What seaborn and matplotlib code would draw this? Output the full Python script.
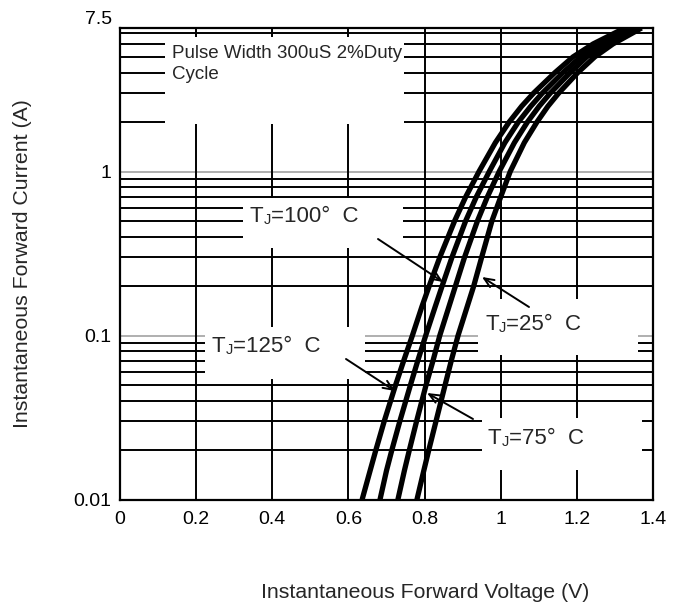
import numpy as np
import pandas as pd
import matplotlib
matplotlib.use("Agg")
import matplotlib.pyplot as plt
from matplotlib.patches import Rectangle
from matplotlib.transforms import ScaledTranslation
import seaborn as sns

# ---------------- data ----------------
current_a = [0.01, 0.015, 0.02, 0.03, 0.05, 0.07, 0.1, 0.15, 0.2, 0.3, 0.5,
             0.7, 1.0, 1.5, 2.0, 2.5, 3.0, 4.0, 5.0, 6.0, 7.5]
vf_125c = [0.636, 0.657, 0.672, 0.694, 0.724, 0.745, 0.768, 0.793, 0.812, 0.840,
           0.879, 0.908, 0.943, 0.986, 1.022, 1.055, 1.086, 1.142, 1.190, 1.243, 1.326]
vf_100c = [0.683, 0.700, 0.714, 0.735, 0.763, 0.782, 0.803, 0.828, 0.846, 0.872,
           0.908, 0.936, 0.970, 1.011, 1.046, 1.079, 1.109, 1.163, 1.210, 1.262, 1.344]
vf_75c = [0.730, 0.747, 0.760, 0.779, 0.804, 0.822, 0.840, 0.864, 0.881, 0.905,
          0.939, 0.965, 0.996, 1.036, 1.070, 1.101, 1.130, 1.182, 1.226, 1.278, 1.357]
vf_25c = [0.780, 0.798, 0.811, 0.830, 0.854, 0.870, 0.888, 0.912, 0.929, 0.950,
          0.977, 1.000, 1.025, 1.062, 1.095, 1.124, 1.152, 1.202, 1.247, 1.295, 1.370]
series_names = ["125", "100", "75", "25"]

x_ticks = [0, 0.2, 0.4, 0.6, 0.8, 1.0, 1.2, 1.4]
x_tick_labels = ["0", "0.2", "0.4", "0.6", "0.8", "1", "1.2", "1.4"]
y_ticks = [0.01, 0.1, 1, 7.5]
y_tick_labels = ["0.01", "0.1", "1", "7.5"]

x_label = "Instantaneous Forward Voltage (V)"
y_label = "Instantaneous Forward Current (A)"
note_text = "Pulse Width 300uS 2%Duty\nCycle"

df = pd.DataFrame({
    "V": vf_125c + vf_100c + vf_75c + vf_25c,
    "I": current_a * 4,
    "T": sum([[n] * len(current_a) for n in series_names], []),
})

# ---------------- style ----------------
sns.set_style("white")
plt.rcParams["font.family"] = ["Liberation Sans", "DejaVu Sans"]

W, H = 687, 610
L, R, T, B = 120, 653, 28, 499.5
fig = plt.figure(figsize=(W / 100, H / 100), dpi=100)
ax = fig.add_axes([L / W, 1 - B / H, (R - L) / W, (B - T) / H])

def fx(px):
    return (px - L) / (R - L)

def fy(py):
    return (B - py) / (B - T)

ax.set_yscale("log")
ax.set_xlim(0, 1.4)
ax.set_ylim(0.01, 7.5)

# grid lines
for e in (-2, -1, 0):
    for k in range(1, 10):
        v = k * 10.0 ** e
        if v <= 0.01 or v >= 7.5:
            continue
        if k == 1:
            ax.axhline(v, color="#9a9a9a", lw=1.1, zorder=1)
        else:
            ax.axhline(v, color="black", lw=1.4, zorder=1)
for xv in x_ticks[1:-1]:
    ax.axvline(xv, color="black", lw=1.4, zorder=1)

# curves
sns.lineplot(data=df, x="V", y="I", hue="T", units="T", estimator=None,
             palette=["black"] * 4, lw=3.8, legend=False, ax=ax, zorder=5,
             sort=False)
for ln in ax.get_lines():
    ln.set_solid_capstyle("butt")
    ln.set_solid_joinstyle("round")

# white label boxes (cover grid lines)
boxes = [(165, 404, 37, 124), (243, 403, 198, 248), (478, 638, 299, 355),
         (205, 365, 327, 379), (482, 642, 418, 470)]
for x0, x1, y0, y1 in boxes:
    ax.add_patch(Rectangle((fx(x0), fy(y1)), fx(x1) - fx(x0), fy(y0) - fy(y1),
                           transform=ax.transAxes, facecolor="white",
                           edgecolor="none", zorder=2))

ax.text(fx(172), fy(64), note_text, transform=ax.transAxes, fontsize=13.5,
        va="center", ha="left", zorder=3, linespacing=1.3)

def tj_label(px, py, temp):
    t1 = ax.text(fx(px), fy(py), "T", transform=ax.transAxes, fontsize=16,
                 va="center", ha="left", zorder=3)
    t2 = ax.annotate("J", xy=(1, 0), xycoords=t1, fontsize=10.5,
                     va="bottom", ha="left", zorder=3)
    ax.annotate("=" + temp + "°  C", xy=(1, 0), xycoords=(t2, t1),
                fontsize=16, va="bottom", ha="left", zorder=3)

tj_label(250, 217, "100")
tj_label(485, 325, "25")
tj_label(212, 347, "125")
tj_label(488, 438, "75")

# arrows (start -> tip, in pixel positions of the reference)
arrows = [((378, 239), (443, 282)), ((529, 307), (482, 277)),
          ((346, 359), (395, 391)), ((473, 419), (427, 393))]
for (sx, sy), (tx, ty) in arrows:
    ax.annotate("", xy=(fx(tx), fy(ty)), xytext=(fx(sx), fy(sy)),
                xycoords="axes fraction", textcoords="axes fraction",
                arrowprops=dict(arrowstyle="->,head_length=0.7,head_width=0.3",
                                color="black", lw=1.4, shrinkA=0, shrinkB=0),
                zorder=6)

# axes, ticks
ax.set_xticks(x_ticks)
ax.set_xticklabels(x_tick_labels)
ax.set_yticks(y_ticks)
ax.set_yticklabels(y_tick_labels)
ax.minorticks_off()
ax.tick_params(axis="both", length=0, labelsize=14, colors="black")
ax.tick_params(axis="x", pad=8)
ax.tick_params(axis="y", pad=6)
lbl = ax.get_yticklabels()[-1]
lbl.set_transform(lbl.get_transform() + ScaledTranslation(0, 0.10, fig.dpi_scale_trans))

for s in ax.spines.values():
    s.set_visible(True)
    s.set_color("black")
    s.set_linewidth(1.6)
    s.set_zorder(7)

ax.set_xlabel(x_label, fontsize=15.3)
ax.set_ylabel(y_label, fontsize=15.3)
ax.xaxis.set_label_coords(fx(425), fy(583))
ax.yaxis.set_label_coords(fx(32), 0.5)

fig.savefig("out.png", dpi=100, facecolor="white")
